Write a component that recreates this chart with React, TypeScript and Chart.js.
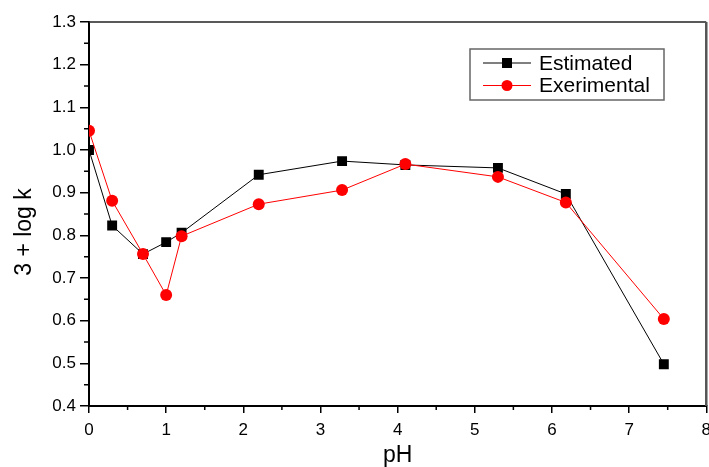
import React, { useEffect, useRef } from "react";
import { Chart, registerables } from "chart.js";

Chart.register(...registerables);

const phValues = [0, 0.3, 0.7, 1.0, 1.2, 2.2, 3.28, 4.1, 5.3, 6.18, 7.45];
const estimated = [1.0, 0.823, 0.756, 0.784, 0.806, 0.942, 0.974, 0.965, 0.958, 0.897, 0.498];
const experimental = [1.045, 0.881, 0.756, 0.66, 0.798, 0.873, 0.906, 0.967, 0.937, 0.877, 0.604];
const xMinorTicks = [0.5, 1.5, 2.5, 3.5, 4.5, 5.5, 6.5, 7.5];
const yMinorTicks = [0.45, 0.55, 0.65, 0.75, 0.85, 0.95, 1.05, 1.15, 1.25];
const seriesLabels = ["Estimated", "Exerimental"];
const xTitle = "pH";
const yTitle = "3 + log k";

const FONT = "'Liberation Sans', Arial, sans-serif";
// canvas is slightly wider than the page so that the "8" label is clipped at the right edge as in the reference
const CANVAS_W = 718;
const CANVAS_H = 467;

const framePlugin = {
  id: "frame",
  afterDraw(chart: any) {
    const { ctx, chartArea } = chart;
    const xs = chart.scales.x;
    const ys = chart.scales.y;
    ctx.save();
    // minor ticks
    ctx.strokeStyle = "#000";
    ctx.lineWidth = 1.5;
    ctx.beginPath();
    xMinorTicks.forEach((v) => {
      const px = xs.getPixelForValue(v);
      ctx.moveTo(px, chartArea.bottom);
      ctx.lineTo(px, chartArea.bottom + 4);
    });
    yMinorTicks.forEach((v) => {
      const py = ys.getPixelForValue(v);
      ctx.moveTo(chartArea.left, py);
      ctx.lineTo(chartArea.left - 5, py);
    });
    ctx.stroke();
    // top border
    ctx.strokeStyle = "#222";
    ctx.lineWidth = 1.5;
    ctx.beginPath();
    ctx.moveTo(chartArea.left, chartArea.top);
    ctx.lineTo(chartArea.right, chartArea.top);
    ctx.stroke();
    // right border
    ctx.strokeStyle = "#555";
    ctx.lineWidth = 2.5;
    ctx.beginPath();
    ctx.moveTo(chartArea.right, chartArea.top);
    ctx.lineTo(chartArea.right, chartArea.bottom);
    ctx.stroke();

    // y axis title
    ctx.save();
    ctx.translate(25, (chartArea.top + chartArea.bottom) / 2 + 18);
    ctx.rotate(-Math.PI / 2);
    ctx.fillStyle = "#000";
    ctx.font = `23px ${FONT}`;
    ctx.textAlign = "center";
    ctx.textBaseline = "middle";
    ctx.fillText(yTitle, 0, 0);
    ctx.restore();

    // legend box
    const bx = 470, by = 49, bw = 194, bh = 51;
    ctx.strokeStyle = "#666";
    ctx.lineWidth = 1.5;
    ctx.strokeRect(bx, by, bw, bh);
    const order = [1, 0];
    order.forEach((dsIndex, row) => {
      const ds = chart.data.datasets[dsIndex];
      const cy = 63 + row * 22.5;
      ctx.strokeStyle = ds.borderColor;
      ctx.lineWidth = 1;
      ctx.beginPath();
      ctx.moveTo(483, cy);
      ctx.lineTo(531, cy);
      ctx.stroke();
      ctx.fillStyle = ds.pointBackgroundColor;
      ctx.beginPath();
      if (ds.pointStyle === "rect") {
        ctx.rect(507 - 5, cy - 5, 10, 10);
      } else {
        ctx.arc(507, cy, 5.5, 0, Math.PI * 2);
      }
      ctx.fill();
      ctx.fillStyle = "#000";
      ctx.font = `21px ${FONT}`;
      ctx.textBaseline = "middle";
      ctx.textAlign = "left";
      ctx.fillText(ds.label, 539, cy + 1);
    });
    ctx.restore();
  },
};

export default function App() {
  const canvasRef = useRef<HTMLCanvasElement | null>(null);

  useEffect(() => {
    if (!canvasRef.current) return;
    const chart = new Chart(canvasRef.current, {
      type: "line",
      data: {
        datasets: [
          {
            label: seriesLabels[1],
            data: phValues.map((x, i) => ({ x, y: experimental[i] })),
            borderColor: "#ff0000",
            backgroundColor: "#ff0000",
            pointBackgroundColor: "#ff0000",
            pointBorderColor: "#ff0000",
            pointStyle: "circle",
            pointRadius: 6,
            borderWidth: 1,
            pointBorderWidth: 0,
            tension: 0,
            order: 0,
          } as any,
          {
            label: seriesLabels[0],
            data: phValues.map((x, i) => ({ x, y: estimated[i] })),
            borderColor: "#000000",
            backgroundColor: "#000000",
            pointBackgroundColor: "#000000",
            pointBorderColor: "#000000",
            pointStyle: "rect",
            pointRadius: 7,
            borderWidth: 1,
            pointBorderWidth: 0,
            tension: 0,
            order: 1,
          } as any,
        ],
      },
      options: {
        responsive: false,
        maintainAspectRatio: false,
        devicePixelRatio: 1,
        animation: false,
        layout: { padding: { top: 22, right: 0, left: 0, bottom: 0 } },
        plugins: {
          legend: { display: false },
          tooltip: { enabled: false },
        },
        scales: {
          x: {
            type: "linear",
            min: 0,
            max: 8,
            ticks: {
              stepSize: 1,
              color: "#000",
              font: { family: FONT, size: 17 },
              padding: 7,
              maxRotation: 0,
            },
            grid: {
              display: true,
              drawOnChartArea: false,
              drawTicks: true,
              tickLength: 7,
              color: "#000",
              lineWidth: 1.5,
            },
            border: { display: true, color: "#000", width: 2 },
            title: {
              display: true,
              text: xTitle,
              color: "#000",
              font: { family: FONT, size: 23, lineHeight: 1 },
              padding: { top: 0, bottom: 0 },
            },
            afterFit: (s: any) => {
              s.height = 61;
            },
          },
          y: {
            type: "linear",
            min: 0.4,
            max: 1.3,
            ticks: {
              stepSize: 0.1,
              color: "#000",
              font: { family: FONT, size: 17 },
              padding: 4,
              callback: (v: any) => Number(v).toFixed(1),
            },
            grid: {
              display: true,
              drawOnChartArea: false,
              drawTicks: true,
              tickLength: 9,
              color: "#000",
              lineWidth: 1.5,
            },
            border: { display: true, color: "#000", width: 2 },
            afterFit: (s: any) => {
              s.width = 89;
            },
          },
        },
      },
      plugins: [framePlugin],
    });
    return () => chart.destroy();
  }, []);

  return (
    <div style={{ position: "fixed", left: 0, top: 0, width: 709, height: 467, overflow: "hidden", background: "#fff" }}>
      <canvas
        ref={canvasRef}
        width={CANVAS_W}
        height={CANVAS_H}
        style={{ display: "block", width: CANVAS_W, height: CANVAS_H }}
      />
    </div>
  );
}
